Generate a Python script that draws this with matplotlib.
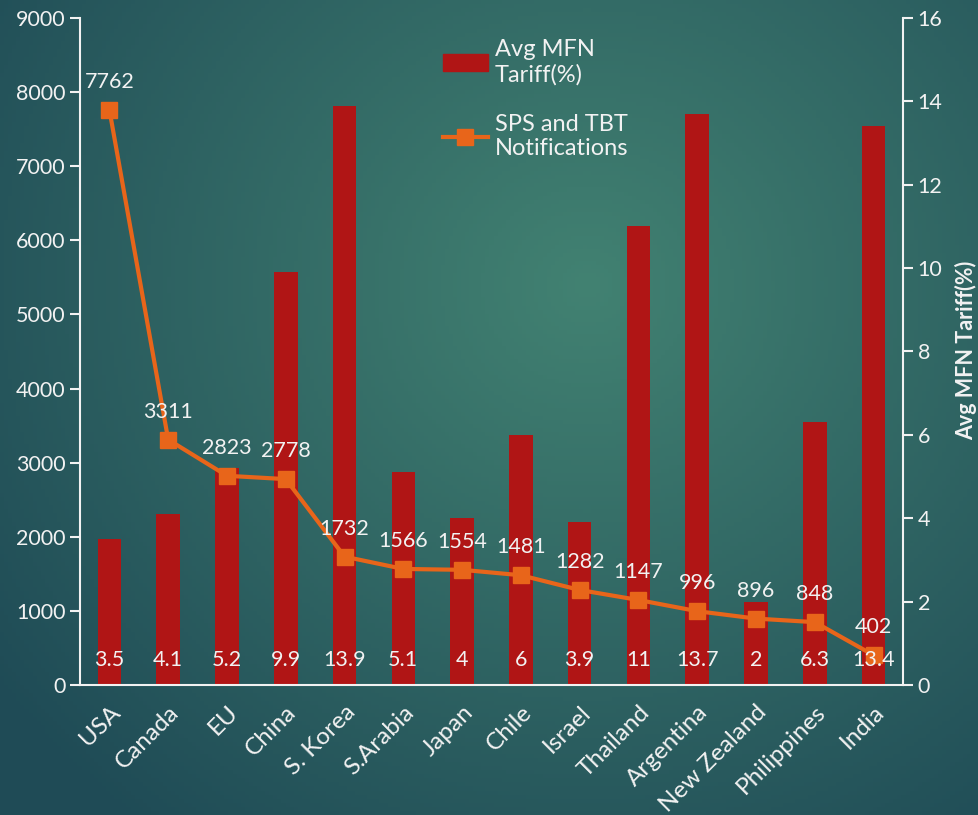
import numpy as np
import matplotlib
matplotlib.use("Agg")
import matplotlib.pyplot as plt
import matplotlib.transforms as mtransforms
from matplotlib.patches import Patch
from matplotlib.lines import Line2D

countries = ['USA', 'Canada', 'EU', 'China', 'S. Korea', 'S.Arabia', 'Japan', 'Chile',
             'Israel', 'Thailand', 'Argentina', 'New Zealand', 'Philippines', 'India']
notifications = [7762, 3311, 2823, 2778, 1732, 1566, 1554, 1481, 1282, 1147, 996, 896, 848, 402]
tariff = [3.5, 4.1, 5.2, 9.9, 13.9, 5.1, 4, 6, 3.9, 11, 13.7, 2, 6.3, 13.4]

bar_col = '#B01515'
line_col = '#E8651A'
txt = '#F2F2F2'
plt.rcParams['font.family'] = ['Lato', 'DejaVu Sans']

fig = plt.figure(figsize=(9.79, 8.15), dpi=100)

# teal gradient background
bg = fig.add_axes([0, 0, 1, 1], zorder=-10)
yy, xx = np.mgrid[0:1:200j, 0:1:240j]
d = np.sqrt(((xx - 0.6) / 0.75) ** 2 + ((yy - 0.65) / 0.85) ** 2)
d = np.clip(d, 0, 1)
c_in = np.array([0x42, 0x82, 0x72]) / 255
c_out = np.array([0x1F, 0x4B, 0x56]) / 255
img = c_in[None, None, :] * (1 - d[..., None]) + c_out[None, None, :] * d[..., None]
bg.imshow(img, extent=[0, 1, 0, 1], aspect='auto', origin='lower')
bg.axis('off')

ax = fig.add_axes([80 / 979, 130 / 815, 823 / 979, 667 / 815])
ax2 = ax.twinx()
ax.set_zorder(ax2.get_zorder() + 1)
ax.patch.set_visible(False)
ax2.patch.set_visible(False)

x = np.arange(len(countries))
ax2.bar(x, tariff, width=0.4, color=bar_col, zorder=2)
ax2.set_ylim(0, 16)
ax2.set_yticks(range(0, 17, 2))

ax.plot(x, notifications, color=line_col, lw=3, marker='s', markersize=11, zorder=3)
ax.set_ylim(0, 9000)
ax.set_yticks(range(0, 9001, 1000))
ax.set_xlim(-0.5, len(countries) - 0.5)
ax.set_xticks(x)
ax.set_xticklabels(countries, rotation=45, ha='right', va='top', rotation_mode='anchor')

for a in (ax, ax2):
    for s in a.spines.values():
        s.set_visible(False)
    a.tick_params(colors=txt, labelsize=15.5, length=7, width=1.5)
for a, side in ((ax, 'left'), (ax, 'bottom'), (ax2, 'right')):
    a.spines[side].set_visible(True)
    a.spines[side].set_color(txt)
    a.spines[side].set_linewidth(1.5)
ax.tick_params(axis='x', length=0, pad=12, labelsize=17.5)

# right axis title, placed by hand so it stays inside the figure
fig.text(966 / 979, 1 - 350 / 815, 'Avg MFN Tariff(%)', rotation=90, ha='center', va='center',
         color=txt, fontsize=15.5, fontweight='bold')

for xi, v in zip(x, notifications):
    ax.annotate(str(v), (xi, v), xytext=(0, 13), textcoords='offset points',
                ha='center', va='bottom', color=txt, fontsize=15.5, zorder=5)

tr = mtransforms.blended_transform_factory(ax.transData, ax.transAxes)
for xi, t in zip(x, tariff):
    ax.text(xi, 0.037, f'{t:g}', transform=tr, ha='center', va='center',
            color=txt, fontsize=15.5, zorder=5)

handles = [Patch(color=bar_col), Line2D([], [], color=line_col, lw=3, marker='s', markersize=11)]
leg = ax.legend(handles, ['Avg MFN\nTariff(%)', 'SPS and TBT\nNotifications'],
                loc='upper left', bbox_to_anchor=(0.415, 1.0), frameon=False,
                fontsize=17, labelspacing=1.2, handlelength=1.9, handletextpad=0.3)
for t in leg.get_texts():
    t.set_color(txt)

fig.savefig('out.png', dpi=100)
